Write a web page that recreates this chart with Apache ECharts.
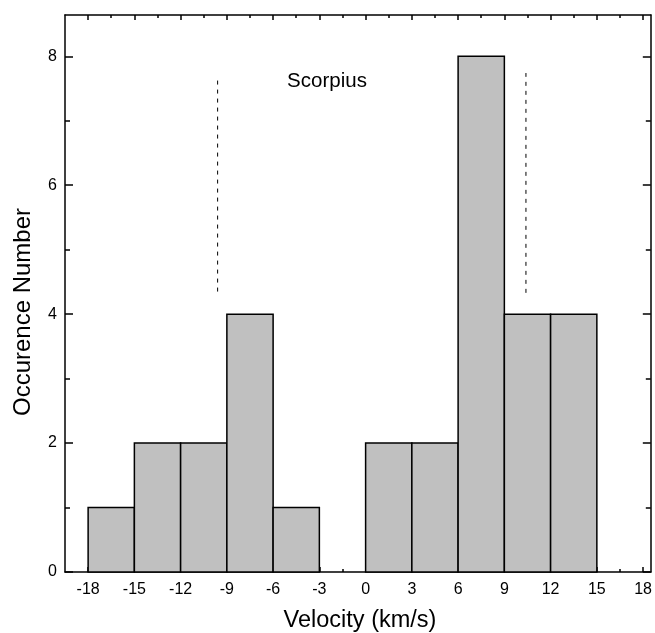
<!DOCTYPE html>
<html>
<head>
<meta charset="utf-8">
<script src="https://cdn.jsdelivr.net/npm/echarts@6/dist/echarts.min.js"></script>
<style>
html, body { margin: 0; padding: 0; background: #fff; }
#chart { width: 655px; height: 633px; }
</style>
</head>
<body>
<div id="chart"></div>
<script>
// histogram bins (left edge, width 3 km/s) and their counts
var binStart = [-18, -15, -12, -9, -6, -3, 0, 3, 6, 9, 12];
var binCount = [1, 2, 2, 4, 1, 0, 2, 2, 8, 4, 4];
var binWidth = 3;

var xMajor = [-18, -15, -12, -9, -6, -3, 0, 3, 6, 9, 12, 15, 18];
var xMinor = [-16.5, -13.5, -10.5, -7.5, -4.5, -1.5, 1.5, 4.5, 7.5, 10.5, 13.5, 16.5];
var yMajor = [0, 2, 4, 6, 8];
var yMinor = [1, 3, 5, 7];

// the two dashed marker lines
var leftDash = [[-9.6, 4.35], [-9.6, 7.66]];
var rightDash = [[10.4, 4.33], [10.4, 7.74]];

var chart = echarts.init(document.getElementById('chart'));

var font = 'Liberation Sans, Arial, sans-serif';
var lineStyle = { color: '#000', width: 1.5 };

function xAx(pos, ticks, len, labels, line) {
	return {
		type: 'value', position: pos, min: -19.5, max: 18.5,
		axisLine: { show: line, onZero: false, lineStyle: lineStyle },
		axisTick: { show: true, inside: true, length: len, customValues: ticks, lineStyle: lineStyle },
		axisLabel: labels ? {
			show: true, customValues: ticks, margin: 10,
			color: '#000', fontSize: 16, fontFamily: font
		} : { show: false },
		splitLine: { show: false }
	};
}

function yAx(pos, ticks, len, labels, line) {
	return {
		type: 'value', position: pos, min: 0, max: 8.64,
		axisLine: { show: line, onZero: false, lineStyle: lineStyle },
		axisTick: { show: true, inside: true, length: len, customValues: ticks, lineStyle: lineStyle },
		axisLabel: labels ? {
			show: true, customValues: ticks, margin: 8,
			color: '#000', fontSize: 16, fontFamily: font
		} : { show: false },
		splitLine: { show: false }
	};
}

var bars = [];
for (var i = 0; i < binStart.length; i++) {
	bars.push([binStart[i], binCount[i]]);
}

var option = {
	animation: false,
	backgroundColor: '#fff',
	grid: { left: 65, top: 15, right: 2, bottom: 61 },
	xAxis: [
		xAx('bottom', xMajor, 5, true, true),
		xAx('bottom', xMinor, 3, false, false),
		xAx('top', xMajor, 5, false, true),
		xAx('top', xMinor, 3, false, false)
	],
	yAxis: [
		yAx('left', yMajor, 8, true, true),
		yAx('left', yMinor, 5, false, false),
		yAx('right', yMajor, 8, false, true),
		yAx('right', yMinor, 5, false, false)
	],
	graphic: [{
		type: 'text', x: 360, y: 621,
		style: {
			text: 'Velocity (km/s)', fontSize: 23.5, fontFamily: font, fill: '#000',
			align: 'center', verticalAlign: 'middle'
		}
	}, {
		type: 'text', x: 11, y: 312, rotation: Math.PI / 2,
		style: {
			text: 'Occurence Number', fontSize: 24, fontFamily: font, fill: '#000',
			align: 'center', verticalAlign: 'top'
		}
	}, {
		type: 'text', x: 327, y: 81,
		style: {
			text: 'Scorpius', fontSize: 20.5, fontFamily: font, fill: '#000',
			align: 'center', verticalAlign: 'middle'
		}
	}],
	series: [{
		type: 'custom',
		xAxisIndex: 0, yAxisIndex: 0,
		data: bars,
		renderItem: function(params, api) {
			var x0 = api.value(0), n = api.value(1);
			if (!n) return;
			var p0 = api.coord([x0, n]);
			var p1 = api.coord([x0 + binWidth, 0]);
			return {
				type: 'rect',
				shape: { x: p0[0], y: p0[1], width: p1[0] - p0[0], height: p1[1] - p0[1] },
				style: { fill: '#c0c0c0', stroke: '#000', lineWidth: 1.5 }
			};
		}
	}, {
		type: 'line', xAxisIndex: 0, yAxisIndex: 0,
		data: leftDash, symbol: 'none',
		lineStyle: { color: '#000', width: 1, type: [4, 5] }
	}, {
		type: 'line', xAxisIndex: 0, yAxisIndex: 0,
		data: rightDash, symbol: 'none',
		lineStyle: { color: '#000', width: 1, type: [4, 5] }
	}]
};

chart.setOption(option);
</script>
</body>
</html>
